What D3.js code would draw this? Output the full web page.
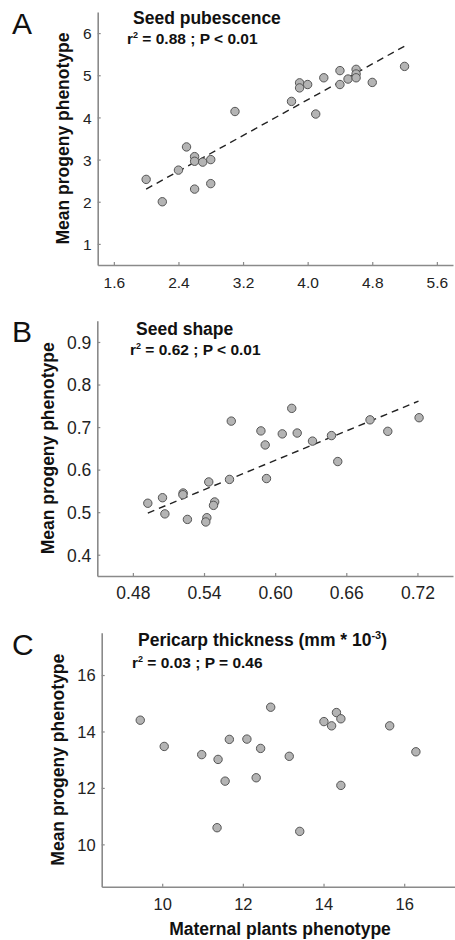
<!DOCTYPE html>
<html>
<head>
<meta charset="utf-8">
<script src="https://cdn.jsdelivr.net/npm/d3@7"></script>
<style>
  html, body { margin: 0; padding: 0; background: #fff; }
  svg { display: block; font-family: "Liberation Sans", Arial, sans-serif; }
</style>
</head>
<body>
<svg id="chart" width="455" height="940"></svg>
<script>
// Panel A - seed pubescence
const pubX = [2.0, 2.2, 2.4, 2.5, 2.6, 2.6, 2.6, 2.7, 2.8, 2.8, 3.1, 3.8, 3.9, 3.9, 4.0, 4.1, 4.2, 4.4, 4.4, 4.5, 4.6, 4.6, 4.6, 4.8, 5.2];
const pubY = [2.53, 2.0, 2.75, 3.30, 3.07, 2.96, 2.30, 2.94, 3.0, 2.43, 4.14, 4.38, 4.82, 4.70, 4.78, 4.08, 4.94, 5.11, 4.78, 4.91, 5.14, 5.03, 4.94, 4.83, 5.21];
const pubFitX = [2.0, 5.2];
const pubFitY = [2.30, 5.69];
const pubXTicks = [1.6, 2.4, 3.2, 4.0, 4.8, 5.6];
const pubYTicks = [1, 2, 3, 4, 5, 6];

// Panel B - seed shape
const shapeX = [0.4926, 0.505, 0.507, 0.5224, 0.5222, 0.526, 0.544, 0.5424, 0.5415, 0.549, 0.548, 0.5615, 0.563, 0.588, 0.5916, 0.5927, 0.606, 0.614, 0.6186, 0.6315, 0.6475, 0.6528, 0.680, 0.695, 0.7214];
const shapeY = [0.521, 0.534, 0.496, 0.545, 0.541, 0.483, 0.571, 0.487, 0.477, 0.524, 0.516, 0.577, 0.714, 0.691, 0.658, 0.579, 0.684, 0.744, 0.686, 0.667, 0.680, 0.619, 0.717, 0.690, 0.722];
const shapeFitX = [0.4926, 0.7209];
const shapeFitY = [0.498, 0.761];
const shapeXTicks = [0.48, 0.54, 0.60, 0.66, 0.72];
const shapeYTicks = [0.4, 0.5, 0.6, 0.7, 0.8, 0.9];

// Panel C - pericarp thickness
const periX = [9.456, 10.05, 10.98, 11.385, 11.56, 11.665, 11.36, 12.10, 12.33, 12.44, 12.69, 13.15, 13.41, 14.01, 14.20, 14.32, 14.43, 14.43, 15.64, 16.29];
const periY = [14.40, 13.47, 13.18, 13.01, 12.24, 13.72, 10.59, 13.73, 12.36, 13.40, 14.86, 13.12, 10.46, 14.35, 14.20, 14.67, 14.45, 12.09, 14.20, 13.28];
const periXTicks = [10, 12, 14, 16];
const periYTicks = [10, 12, 14, 16];

const svg = d3.select('#chart');

const panels = [
  { letter: 'A', title: 'Seed pubescence', stat: ' = 0.88 ; P < 0.01',
    xs: pubX, ys: pubY, fitX: pubFitX, fitY: pubFitY,
    xTicks: pubXTicks, yTicks: pubYTicks, xFmt: d3.format('.1f'), yFmt: d3.format('d'),
    xDom: [1.4, 5.8], yDom: [0.5, 6.5],
    left: 97.7, right: 453, top: 12, bottom: 265, tickSize: 15.5,
    letterY: 34, titleX: 133, titleY: 24, statX: 127, statY: 44, yTitleX: 63 },
  { letter: 'B', title: 'Seed shape', stat: ' = 0.62 ; P < 0.01',
    xs: shapeX, ys: shapeY, fitX: shapeFitX, fitY: shapeFitY,
    xTicks: shapeXTicks, yTicks: shapeYTicks, xFmt: d3.format('.2f'), yFmt: d3.format('.1f'),
    xDom: [0.45, 0.75], yDom: [0.35, 0.95],
    left: 97.3, right: 453, top: 320.7, bottom: 576, tickSize: 17.5,
    letterY: 342, titleX: 136, titleY: 335, statX: 130, statY: 355, yTitleX: 48 },
  { letter: 'C', title: 'Pericarp thickness (mm * 10', stat: ' = 0.03 ; P = 0.46',
    xs: periX, ys: periY, fitX: null, fitY: null,
    xTicks: periXTicks, yTicks: periYTicks, xFmt: d3.format('d'), yFmt: d3.format('d'),
    xDom: [8.5, 17.5], yDom: [8.5, 17.5],
    left: 101.7, right: 464.7, top: 632.7, bottom: 886.7, tickSize: 16.5,
    letterY: 655, titleX: 138, titleY: 646, statX: 132, statY: 668, yTitleX: 58,
    xTitle: 'Maternal plants phenotype' }
];

panels.forEach(p => {
  const x = d3.scaleLinear().domain(p.xDom).range([p.left, p.right]);
  const y = d3.scaleLinear().domain(p.yDom).range([p.bottom, p.top]);
  const g = svg.append('g');

  // axes: inner ticks, gray lines
  const xAxis = g.append('g')
      .attr('transform', `translate(0,${p.bottom})`)
      .call(d3.axisBottom(x).tickValues(p.xTicks).tickFormat(p.xFmt).tickSizeInner(-3).tickSizeOuter(0).tickPadding(9));
  const yAxis = g.append('g')
      .attr('transform', `translate(${p.left},0)`)
      .call(d3.axisLeft(y).tickValues(p.yTicks).tickFormat(p.yFmt).tickSizeInner(-3).tickSizeOuter(0).tickPadding(9));
  [xAxis, yAxis].forEach(a => {
    a.select('.domain').attr('stroke', '#8a8a8a').attr('stroke-width', 1.6);
    a.selectAll('.tick line').attr('stroke', '#8a8a8a').attr('stroke-width', 1.2);
    a.selectAll('.tick text').attr('fill', '#222').style('font-size', p.tickSize + 'px');
  });
  xAxis.selectAll('.tick text').attr('dy', null).attr('y', 23).attr('dominant-baseline', 'auto');
  yAxis.selectAll('.tick text').attr('x', -6).attr('dy', '0.36em');

  // fit line
  if (p.fitX) {
    const pts = p.fitX.map((v, i) => [v, p.fitY[i]]);
    g.append('path')
      .datum(pts)
      .attr('d', d3.line().x(d => x(d[0])).y(d => y(d[1])))
      .attr('fill', 'none')
      .attr('stroke', '#222')
      .attr('stroke-width', 1.4)
      .attr('stroke-dasharray', '7,5');
  }

  // points
  g.append('g').selectAll('circle')
    .data(p.xs.map((v, i) => [v, p.ys[i]]))
    .join('circle')
      .attr('cx', d => x(d[0]))
      .attr('cy', d => y(d[1]))
      .attr('r', 4.2)
      .attr('fill', '#b4b4b4')
      .attr('stroke', '#555')
      .attr('stroke-width', 1);

  // panel letter
  g.append('text')
    .attr('x', 12).attr('y', p.letterY)
    .style('font-size', '30px').attr('fill', '#111')
    .text(p.letter);

  // title
  const t = g.append('text')
    .attr('x', p.titleX).attr('y', p.titleY)
    .style('font-size', '17.5px').style('font-weight', 'bold').attr('fill', '#111')
    .text(p.title);
  if (p.letter === 'C') {
    t.append('tspan').attr('dy', -7).style('font-size', '11px').text('-3');
    t.append('tspan').attr('dy', 7).text(')');
  }

  // r² line
  const s = g.append('text')
    .attr('x', p.statX).attr('y', p.statY)
    .style('font-size', '15.5px').style('font-weight', 'bold').attr('fill', '#111');
  s.append('tspan').text('r');
  s.append('tspan').attr('dy', -6).style('font-size', '9px').text('2');
  s.append('tspan').attr('dy', 6).text(p.stat);

  // y title
  g.append('text')
    .attr('transform', `translate(${p.yTitleX},${(p.top + p.bottom) / 2}) rotate(-90)`)
    .attr('text-anchor', 'middle')
    .attr('dy', '0.35em')
    .style('font-size', '17.5px').style('font-weight', 'bold').attr('fill', '#111')
    .text('Mean progeny phenotype');

  if (p.xTitle) {
    g.append('text')
      .attr('x', 280).attr('y', 935)
      .attr('text-anchor', 'middle')
      .style('font-size', '17.5px').style('font-weight', 'bold').attr('fill', '#111')
      .text(p.xTitle);
  }
});
</script>
</body>
</html>
